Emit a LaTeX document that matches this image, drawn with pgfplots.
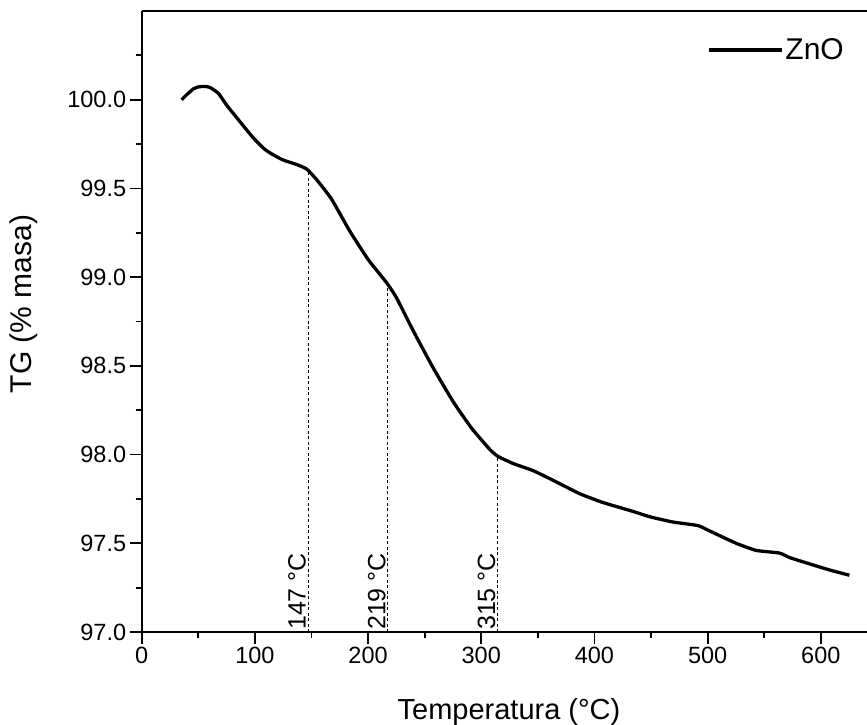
\documentclass[border=0pt]{standalone}
\usepackage{fontspec}
\setmainfont{Liberation Sans}
\usepackage{pgfplots}
\pgfplotsset{compat=1.18}
\begin{document}
\begin{tikzpicture}
\begin{axis}[
  scale only axis,
  width=725.3pt, height=621pt,
  xmin=0, xmax=640.8, ymin=97.0, ymax=100.5,
  axis x line*=bottom, axis y line*=left,
  axis line style={line width=2.2pt},
  every tick/.style={line width=1.8pt, black},
  tick align=outside,
  major tick length=12pt, minor tick length=6pt,
  xtick={0,100,...,600},
  minor xtick={50,150,...,550},
  ytick={97.0,97.5,...,100.0},
  minor ytick={97.25,97.75,...,100.25},
  /pgf/number format/assume math mode=true,
  tick label style={font=\fontsize{23.5}{28}\selectfont},
  yticklabel style={/pgf/number format/.cd, fixed, fixed zerofill, precision=1},
  xticklabel style={/pgf/number format/.cd, 1000 sep={}},
  xlabel={Temperatura (°C)},
  ylabel={TG (\% masa)},
  xlabel style={font=\fontsize{29}{34}\selectfont, at={(axis description cs:0.5064,-0.1417)}, anchor=base},
  ylabel style={font=\fontsize{30}{36}\selectfont, at={(axis description cs:-0.1627,0.528)}, anchor=center},
  legend style={at={(axis description cs:0.971,0.937)}, anchor=east, draw=none, fill=none, inner sep=0pt, font=\fontsize{30}{36}\selectfont},
  legend image code/.code={\draw[#1] (0pt,0pt) -- (67pt,0pt); \path (0pt,0pt) -- (73pt,0pt);},
  extra description/.code={\draw[line width=2.2pt] (axis description cs:0,1) -- (axis description cs:1,1);},
]
\addplot[black, line width=3.3pt, smooth, tension=0.3] coordinates {
(35.3,100.00) (39.7,100.028) (45.5,100.06) (50,100.072) (55,100.075) (60,100.07)
(67.6,100.037) (75,99.97) (83.8,99.90) (92.7,99.83) (100,99.775) (108.8,99.72)
(116,99.69) (125,99.66) (136.8,99.635) (145.6,99.61) (154.5,99.55) (167.7,99.44)
(183.8,99.26) (200,99.10) (216.2,98.97) (225,98.885) (239.7,98.70) (257.4,98.49)
(275,98.30) (291.3,98.15) (307.4,98.03) (314.7,97.99) (328,97.95) (345.6,97.91)
(361.9,97.86) (386.8,97.78) (407.4,97.73) (433.9,97.68) (448.6,97.65) (469.2,97.62)
(491.3,97.60) (501.6,97.57) (525.2,97.50) (542.8,97.46) (563.4,97.445) (572.2,97.42)
(587,97.39) (607.5,97.35) (625.2,97.32)
};
\addlegendentry{ZnO}
\addplot[black, line width=1pt, dash pattern=on 3pt off 2.5pt, forget plot] coordinates {(147,97.0) (147,99.605)};
\addplot[black, line width=1pt, dash pattern=on 3pt off 2.5pt, forget plot] coordinates {(217.5,97.0) (217.5,98.96)};
\addplot[black, line width=1pt, dash pattern=on 3pt off 2.5pt, forget plot] coordinates {(314.5,97.0) (314.5,97.99)};
\node[rotate=90, anchor=south west, inner sep=2pt, font=\fontsize{25}{29}\selectfont] at (axis cs:147,97.0) {147 °C};
\node[rotate=90, anchor=south west, inner sep=2pt, font=\fontsize{25}{29}\selectfont] at (axis cs:217.5,97.0) {219 °C};
\node[rotate=90, anchor=south west, inner sep=2pt, font=\fontsize{25}{29}\selectfont] at (axis cs:314.5,97.0) {315 °C};
\end{axis}
\pgfresetboundingbox
\useasboundingbox (-141.7pt,-93pt) rectangle (725.3pt,632pt);
\end{tikzpicture}
\end{document}
